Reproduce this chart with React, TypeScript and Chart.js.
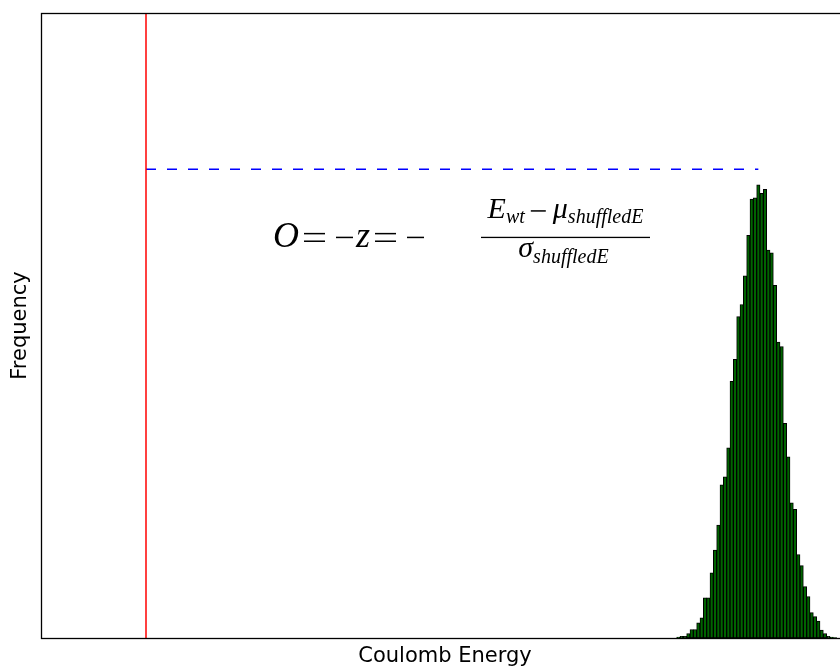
import React, { useEffect, useRef } from "react";
import { Chart, registerables } from "chart.js";

Chart.register(...registerables);

// ---- data ----
const binStart = 95.0;
const binWidth = 0.5;
const counts = [
  2, 4, 4, 10, 19, 19, 34, 45, 90, 90, 146, 197, 253, 343, 361, 426, 575, 624,
  720, 747, 811, 902, 983, 986, 1015, 996, 1005, 869, 863, 790, 663, 653, 481,
  406, 303, 288, 187, 162, 115, 93, 57, 48, 38, 18, 10, 4, 2, 1,
];
const observedEnergy = 15.4; // red vertical line (E_wt)
const peakEnergy = 107.25; // end of dashed line
const peakLevel = 1050; // dashed line height
const xRange = [-0.35, 120.85];
const yRange = [0, 1400];
const xLabel = "Coulomb Energy";
const yLabel = "Frequency";
const formulaAnchor = [34.45, 876]; // data coords of formula baseline start

const framePlugin = {
  id: "frame",
  afterDraw(chart: any) {
    const { ctx, chartArea } = chart;
    ctx.save();
    ctx.strokeStyle = "#000";
    ctx.lineWidth = 1.3;
    ctx.strokeRect(
      chartArea.left + 0.5,
      chartArea.top + 0.5,
      chartArea.right - chartArea.left,
      chartArea.bottom - chartArea.top
    );
    ctx.restore();
  },
};

const formulaPlugin = {
  id: "formula",
  afterDatasetsDraw(chart: any) {
    const { ctx, scales } = chart;
    const px = scales.x.getPixelForValue(formulaAnchor[0]);
    const py = scales.y.getPixelForValue(formulaAnchor[1]);
    const big = 36;
    const mid = 30;
    const sub = 20;
    const it = (s: number) => `italic ${s}px "Liberation Serif"`;
    const axisY = py - 9.5;
    const rule = 1.5;
    ctx.save();
    ctx.fillStyle = "#000";
    ctx.textBaseline = "alphabetic";
    ctx.textAlign = "left";
    let cx = px;
    const put = (t: string, font: string, dy = 0, gapAfter = 0) => {
      ctx.font = font;
      ctx.fillText(t, cx, py + dy);
      cx += ctx.measureText(t).width + gapAfter;
    };
    const eq = (w: number, gapAfter: number) => {
      ctx.fillRect(cx, axisY - 3.8 - rule / 2, w, rule);
      ctx.fillRect(cx, axisY + 3.8 - rule / 2, w, rule);
      cx += w + gapAfter;
    };
    const minus = (w: number, y: number, gapAfter: number) => {
      ctx.fillRect(cx, y - rule / 2, w, rule);
      cx += w + gapAfter;
    };
    put("O", it(big), 0, 5);
    eq(21, 11);
    minus(17, axisY, 3);
    put("z", it(big), 0, 5);
    eq(21, 11);
    minus(17, axisY, 0);
    // fraction
    const barLeft = px + 208;
    const barRight = px + 377;
    ctx.fillRect(barLeft, axisY - 0.65, barRight - barLeft, 1.3);
    const measure = (t: string, font: string) => {
      ctx.font = font;
      return ctx.measureText(t).width;
    };
    const center = (barLeft + barRight) / 2;
    // numerator: E_wt − μ_shuffledE
    const numBase = axisY - 19.5;
    const wE = measure("E", it(mid));
    const wWt = measure("wt", it(sub));
    const wMu = measure("\u03bc", it(mid));
    const wSh = measure("shuffledE", it(sub));
    const minusW = 15;
    const gapL = 6;
    const gapR = 7;
    const numW = wE + wWt + gapL + minusW + gapR + wMu + wSh;
    cx = center - numW / 2;
    put("E", it(mid), numBase - py, 0);
    put("wt", it(sub), numBase - py + 5, gapL);
    minus(minusW, numBase - 7, gapR);
    put("\u03bc", it(mid), numBase - py, 0);
    put("shuffledE", it(sub), numBase - py + 5, 0);
    // denominator: σ_shuffledE
    const denBase = axisY + 19.5;
    const denW = measure("\u03c3", it(mid)) + measure("shuffledE", it(sub));
    cx = center - denW / 2 - 2;
    put("\u03c3", it(mid), denBase - py, 0);
    put("shuffledE", it(sub), denBase - py + 6, 0);
    ctx.restore();
  },
};

export default function App() {
  const ref = useRef<HTMLCanvasElement>(null);
  useEffect(() => {
    const canvas = ref.current!;
    const axisTitleFont = { family: "DejaVu Sans", size: 21 };
    const chart = new Chart(canvas, {
      type: "bar",
      data: {
        datasets: [
          {
            type: "bar",
            data: counts.map((c, i) => ({ x: binStart + binWidth * (i + 0.5), y: c })),
            backgroundColor: "#006400",
            borderColor: "#000",
            borderWidth: 1,
            borderSkipped: false,
            barPercentage: 1,
            categoryPercentage: 1,
          } as any,
          {
            type: "line",
            data: [
              { x: observedEnergy, y: yRange[0] },
              { x: observedEnergy, y: yRange[1] },
            ],
            borderColor: "#ff0000",
            borderWidth: 1.5,
            pointRadius: 0,
            fill: false,
          } as any,
          {
            type: "line",
            data: [
              { x: observedEnergy, y: peakLevel },
              { x: peakEnergy, y: peakLevel },
            ],
            borderColor: "#0000ff",
            borderWidth: 1.5,
            borderDash: [10, 11],
            pointRadius: 0,
            fill: false,
          } as any,
        ],
      },
      options: {
        animation: false,
        responsive: false,
        devicePixelRatio: 1,
        layout: { padding: { top: 13, right: 11, left: 0, bottom: 0 } },
        plugins: { legend: { display: false }, tooltip: { enabled: false } },
        scales: {
          x: {
            type: "linear",
            min: xRange[0],
            max: xRange[1],
            offset: false,
            grid: { display: false },
            border: { display: false },
            ticks: { display: false },
            title: {
              display: true,
              text: xLabel,
              color: "#000",
              font: axisTitleFont,
              padding: { top: 0, bottom: 1.5 },
            },
            afterFit: (s: any) => {
              s.height = 33;
            },
          },
          y: {
            type: "linear",
            min: yRange[0],
            max: yRange[1],
            grid: { display: false },
            border: { display: false },
            ticks: { display: false },
            title: {
              display: true,
              text: yLabel,
              color: "#000",
              font: axisTitleFont,
              padding: { top: 8, bottom: 0 },
            },
            afterFit: (s: any) => {
              s.width = 41;
            },
          },
        },
      } as any,
      plugins: [formulaPlugin, framePlugin],
    });
    return () => chart.destroy();
  }, []);
  return (
    <div
      style={{
        position: "fixed",
        left: 0,
        top: 0,
        width: 840,
        height: 671,
        overflow: "hidden",
        background: "#fff",
      }}
    >
      <canvas ref={ref} width={860} height={671} style={{ width: 860, height: 671, display: "block" }} />
    </div>
  );
}
